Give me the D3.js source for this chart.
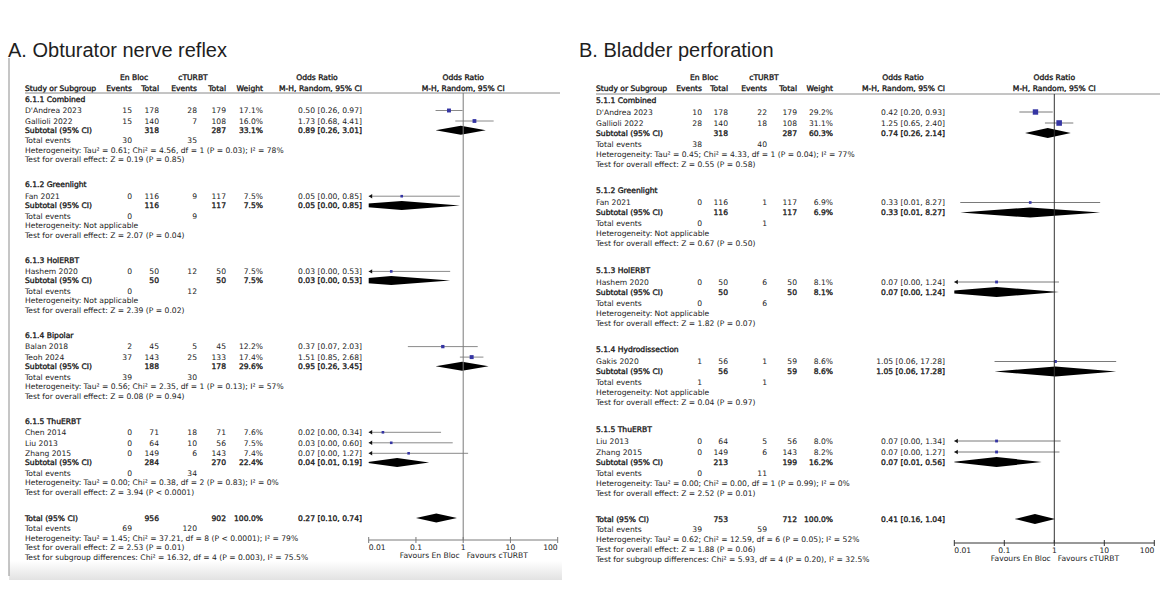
<!DOCTYPE html>
<html><head><meta charset="utf-8">
<script src="https://cdn.jsdelivr.net/npm/d3@7"></script>
<style>
html,body{margin:0;padding:0;background:#fff;}
svg{display:block;}
text{font-family:"DejaVu Sans",Verdana,sans-serif;font-size:7.6px;fill:#1a1a1a;}
text.b{stroke:#1a1a1a;stroke-width:0.35px;}
text.title{font-family:"Liberation Sans",Arial,sans-serif;font-size:20px;fill:#1e1e1e;stroke:none;}
</style></head><body>
<svg id="c" width="1168" height="589"></svg>
<script>
// ---------------- Panel A data ----------------
const aTitle = "A. Obturator nerve reflex";
const aGroupLabels = ["6.1.1 Combined","6.1.2 Greenlight","6.1.3 HolERBT","6.1.4 Bipolar","6.1.5 ThuERBT"];
const aStudy = ["D'Andrea 2023","Gallioli 2022","Fan 2021","Hashem 2020","Balan 2018","Teoh 2024","Chen 2014","Liu 2013","Zhang 2015"];
const aStudyGroup = [0,0,1,2,3,3,4,4,4];
const aEventsE = [15,15,0,0,2,37,0,0,0];
const aTotalE = [178,140,116,50,45,143,71,64,149];
const aEventsC = [28,7,9,12,5,25,18,10,6];
const aTotalC = [179,108,117,50,45,133,71,56,143];
const aWeight = [17.1,16.0,7.5,7.5,12.2,17.4,7.6,7.5,7.4];
const aOR = [0.50,1.73,0.05,0.03,0.37,1.51,0.02,0.03,0.07];
const aLo = [0.26,0.68,0.00,0.00,0.07,0.85,0.00,0.00,0.00];
const aHi = [0.97,4.41,0.85,0.53,2.03,2.68,0.34,0.60,1.27];
const aSubTotalE = [318,116,50,188,284];
const aSubTotalC = [287,117,50,178,270];
const aSubWeight = [33.1,7.5,7.5,29.6,22.4];
const aSubOR = [0.89,0.05,0.03,0.95,0.04];
const aSubLo = [0.26,0.00,0.00,0.26,0.01];
const aSubHi = [3.01,0.85,0.53,3.45,0.19];
const aSubEventsE = [30,0,0,39,0];
const aSubEventsC = [35,9,12,30,34];
const aSubHet = ["Heterogeneity: Tau² = 0.61; Chi² = 4.56, df = 1 (P = 0.03); I² = 78%",
  "Heterogeneity: Not applicable","Heterogeneity: Not applicable",
  "Heterogeneity: Tau² = 0.56; Chi² = 2.35, df = 1 (P = 0.13); I² = 57%",
  "Heterogeneity: Tau² = 0.00; Chi² = 0.38, df = 2 (P = 0.83); I² = 0%"];
const aSubTest = ["Test for overall effect: Z = 0.19 (P = 0.85)","Test for overall effect: Z = 2.07 (P = 0.04)",
  "Test for overall effect: Z = 2.39 (P = 0.02)","Test for overall effect: Z = 0.08 (P = 0.94)",
  "Test for overall effect: Z = 3.94 (P < 0.0001)"];
const aTotalTotals = [956,902];
const aTotalEvents = [69,120];
const aTotalWeight = 100.0;
const aTotalCI = [0.27,0.10,0.74];
const aTotalNotes = ["Heterogeneity: Tau² = 1.45; Chi² = 37.21, df = 8 (P < 0.0001); I² = 79%",
  "Test for overall effect: Z = 2.53 (P = 0.01)",
  "Test for subgroup differences: Chi² = 16.32, df = 4 (P = 0.003), I² = 75.5%"];

// ---------------- Panel B data ----------------
const bTitle = "B. Bladder perforation";
const bGroupLabels = ["5.1.1 Combined","5.1.2 Greenlight","5.1.3 HolERBT","5.1.4 Hydrodissection","5.1.5 ThuERBT"];
const bStudy = ["D'Andrea 2023","Gallioli 2022","Fan 2021","Hashem 2020","Gakis 2020","Liu 2013","Zhang 2015"];
const bStudyGroup = [0,0,1,2,3,4,4];
const bEventsE = [10,28,0,0,1,0,0];
const bTotalE = [178,140,116,50,56,64,149];
const bEventsC = [22,18,1,6,1,5,6];
const bTotalC = [179,108,117,50,59,56,143];
const bWeight = [29.2,31.1,6.9,8.1,8.6,8.0,8.2];
const bOR = [0.42,1.25,0.33,0.07,1.05,0.07,0.07];
const bLo = [0.20,0.65,0.01,0.00,0.06,0.00,0.00];
const bHi = [0.93,2.40,8.27,1.24,17.28,1.34,1.27];
const bSubTotalE = [318,116,50,56,213];
const bSubTotalC = [287,117,50,59,199];
const bSubWeight = [60.3,6.9,8.1,8.6,16.2];
const bSubOR = [0.74,0.33,0.07,1.05,0.07];
const bSubLo = [0.26,0.01,0.00,0.06,0.01];
const bSubHi = [2.14,8.27,1.24,17.28,0.56];
const bSubEventsE = [38,0,0,1,0];
const bSubEventsC = [40,1,6,1,11];
const bSubHet = ["Heterogeneity: Tau² = 0.45; Chi² = 4.33, df = 1 (P = 0.04); I² = 77%",
  "Heterogeneity: Not applicable","Heterogeneity: Not applicable","Heterogeneity: Not applicable",
  "Heterogeneity: Tau² = 0.00; Chi² = 0.00, df = 1 (P = 0.99); I² = 0%"];
const bSubTest = ["Test for overall effect: Z = 0.55 (P = 0.58)","Test for overall effect: Z = 0.67 (P = 0.50)",
  "Test for overall effect: Z = 1.82 (P = 0.07)","Test for overall effect: Z = 0.04 (P = 0.97)",
  "Test for overall effect: Z = 2.52 (P = 0.01)"];
const bTotalTotals = [753,712];
const bTotalEvents = [39,59];
const bTotalWeight = 100.0;
const bTotalCI = [0.41,0.16,1.04];
const bTotalNotes = ["Heterogeneity: Tau² = 0.62; Chi² = 12.59, df = 6 (P = 0.05); I² = 52%",
  "Test for overall effect: Z = 1.88 (P = 0.06)",
  "Test for subgroup differences: Chi² = 5.93, df = 4 (P = 0.20), I² = 32.5%"];

// common labels
const tickValues = [0.01,0.1,1,10,100];
const tickLabels = ["0.01","0.1","1","10","100"];
const expLabel = "En Bloc", ctrlLabel = "cTURBT";
const favLeft = "Favours En Bloc", favRight = "Favours cTURBT";

// ---------------- layout (positions only) ----------------
const layoutA = {
  titleX: 8, titleY: 57,
  col: {study:25, evE:132, totE:159, evC:197, totC:226, wt:263, ci:362},
  hdr1: {en:134, ct:193, or:317}, hdr1Y:77, hdr2Y:88, lineY:93, lineX2:560,
  range:[368.7,557.7], top:99,
  st:{hs:11.5, ss:10.5, sub:9.2, te:10.5, ln:9.5, gap:25, tgap:26, tte:10.5},
  axisY:540, diaH:9, sq:0.95, vColor:"#7a7a7a", ciColor:"#8a8a8a",
  border:{x:9, y1:58, y2:576}, shade:{x1:9, x2:562, y1:561, y2:580}
};
const layoutB = {
  titleX: 579, titleY: 57,
  col: {study:596, evE:702, totE:728, evC:767, totC:797, wt:833, ci:945},
  hdr1: {en:704, ct:764, or:903}, hdr1Y:77, hdr2Y:88, lineY:94, lineX2:1160,
  range:[954.3,1154.3], top:99.8,
  st:{hs:12.2, ss:11, sub:10, te:11, ln:10, gap:26.3, tgap:26, tte:10},
  axisY:543, diaH:10, sq:1.0, vColor:"#333", ciColor:"#7a7a7a",
  border:null, shade:null
};

const svg = d3.select("#c");
const defs = svg.append("defs");
const grad = defs.append("linearGradient").attr("id","shadeGrad").attr("x1",0).attr("y1",0).attr("x2",0).attr("y2",1);
grad.append("stop").attr("offset","0%").attr("stop-color","#ffffff");
grad.append("stop").attr("offset","100%").attr("stop-color","#e2e2e2");

const f2 = d3.format(".2f");
const pct = v => d3.format(".1f")(v) + "%";
const ciText = (e,l,h) => `${f2(e)} [${f2(l)}, ${f2(h)}]`;

function txt(g, x, y, s, anchor, bold, cls) {
  return g.append("text").attr("x", x).attr("y", y).attr("dy", "0.36em")
    .attr("text-anchor", anchor || "start").attr("class", (bold ? "b " : "") + (cls || "")).text(s);
}

function drawPanel(L, D, idx) {
  const g = svg.append("g");
  const c = L.col;
  const x = d3.scaleLog().domain([0.01,100]).range(L.range);
  const clipId = "clip" + idx;
  defs.append("clipPath").attr("id", clipId).append("rect")
    .attr("x", L.range[0]).attr("y", 0).attr("width", L.range[1]-L.range[0]).attr("height", 589);

  if (L.shade) g.append("rect").attr("x", L.shade.x1).attr("y", L.shade.y1)
    .attr("width", L.shade.x2 - L.shade.x1).attr("height", L.shade.y2 - L.shade.y1).attr("fill", "url(#shadeGrad)");
  if (L.border) g.append("line").attr("x1", L.border.x).attr("x2", L.border.x)
    .attr("y1", L.border.y1).attr("y2", L.border.y2).attr("stroke", "#a0a0a0").attr("stroke-width", 1.2);

  g.append("text").attr("class","title").attr("x", L.titleX).attr("y", L.titleY).text(D.title);

  // headers
  txt(g, L.hdr1.en, L.hdr1Y, expLabel, "middle", true);
  txt(g, L.hdr1.ct, L.hdr1Y, ctrlLabel, "middle", true);
  txt(g, L.hdr1.or, L.hdr1Y, "Odds Ratio", "middle", true);
  const pc = x(1);
  txt(g, pc, L.hdr1Y, "Odds Ratio", "middle", true);
  txt(g, c.study, L.hdr2Y, "Study or Subgroup", "start", true);
  txt(g, c.evE, L.hdr2Y, "Events", "end", true);
  txt(g, c.totE, L.hdr2Y, "Total", "end", true);
  txt(g, c.evC, L.hdr2Y, "Events", "end", true);
  txt(g, c.totC, L.hdr2Y, "Total", "end", true);
  txt(g, c.wt, L.hdr2Y, "Weight", "end", true);
  txt(g, c.ci, L.hdr2Y, "M-H, Random, 95% CI", "end", true);
  txt(g, pc, L.hdr2Y, "M-H, Random, 95% CI", "middle", true);
  g.append("line").attr("x1", c.study).attr("x2", L.lineX2).attr("y1", L.lineY).attr("y2", L.lineY)
    .attr("stroke", "#8a8a8a").attr("stroke-width", 1);

  const plot = svg.append("g").attr("clip-path", `url(#${clipId})`);
  const marks = svg.append("g");
  const geoLo = (e, l, h) => (l >= 0.1 ? l : e * e / h);

  function diamond(y, e, l, h) {
    const lo = geoLo(e, l, h), hh = L.diaH / 2;
    plot.append("path").attr("d", d3.line()([[x(lo), y], [x(e), y - hh], [x(h), y], [x(e), y + hh]]) + "Z")
      .attr("fill", "#000");
  }

  let y = L.top;
  const st = L.st;
  D.groups.forEach((gl, gi) => {
    txt(g, c.study, y, gl, "start", true);
    const ids = D.studyGroup.map((v, i) => v === gi ? i : -1).filter(i => i >= 0);
    let sy = y + st.hs;
    ids.forEach((i, k) => {
      if (k > 0) sy += st.ss;
      txt(g, c.study, sy, D.study[i]);
      txt(g, c.evE, sy, D.evE[i], "end");
      txt(g, c.totE, sy, D.totE[i], "end");
      txt(g, c.evC, sy, D.evC[i], "end");
      txt(g, c.totC, sy, D.totC[i], "end");
      txt(g, c.wt, sy, pct(D.w[i]), "end");
      txt(g, c.ci, sy, ciText(D.or[i], D.lo[i], D.hi[i]), "end");
      const lo = geoLo(D.or[i], D.lo[i], D.hi[i]);
      const x0 = Math.max(x(lo), L.range[0]), x1 = Math.min(x(D.hi[i]), L.range[1]);
      marks.append("line").attr("x1", x0).attr("x2", x1).attr("y1", sy).attr("y2", sy)
        .attr("stroke", L.ciColor).attr("stroke-width", 1);
      if (x(lo) < L.range[0]) {
        marks.append("path").attr("d", d3.line()([[x0, sy], [x0 + 3.5, sy - 2.2], [x0 + 3.5, sy + 2.2]]) + "Z")
          .attr("fill", "#111");
      }
      const s = Math.max(2, L.sq * Math.sqrt(D.w[i]));
      marks.append("rect").attr("x", x(D.or[i]) - s / 2).attr("y", sy - s / 2).attr("width", s).attr("height", s)
        .attr("fill", "#3535a3");
    });
    const suby = sy + st.sub;
    txt(g, c.study, suby, "Subtotal (95% CI)", "start", true);
    txt(g, c.totE, suby, D.subTotE[gi], "end", true);
    txt(g, c.totC, suby, D.subTotC[gi], "end", true);
    txt(g, c.wt, suby, pct(D.subW[gi]), "end", true);
    txt(g, c.ci, suby, ciText(D.subOr[gi], D.subLo[gi], D.subHi[gi]), "end", true);
    diamond(suby, D.subOr[gi], D.subLo[gi], D.subHi[gi]);
    const tey = suby + st.te;
    txt(g, c.study, tey, "Total events");
    txt(g, c.evE, tey, D.subEvE[gi], "end");
    txt(g, c.evC, tey, D.subEvC[gi], "end");
    txt(g, c.study, tey + st.ln, D.subHet[gi]);
    txt(g, c.study, tey + 2 * st.ln, D.subTest[gi]);
    y = tey + 2 * st.ln + (gi < D.groups.length - 1 ? st.gap : st.tgap);
  });
  // overall
  txt(g, c.study, y, "Total (95% CI)", "start", true);
  txt(g, c.totE, y, D.totTot[0], "end", true);
  txt(g, c.totC, y, D.totTot[1], "end", true);
  txt(g, c.wt, y, pct(D.totW), "end", true);
  txt(g, c.ci, y, ciText(...D.totCI), "end", true);
  diamond(y, ...D.totCI);
  const ty = y + st.tte;
  txt(g, c.study, ty, "Total events");
  txt(g, c.evE, ty, D.totEv[0], "end");
  txt(g, c.evC, ty, D.totEv[1], "end");
  D.notes.forEach((n, k) => txt(g, c.study, ty + (k + 1) * st.ln, n));

  // null line and axis
  marks.append("line").attr("x1", pc).attr("x2", pc).attr("y1", L.lineY).attr("y2", L.axisY)
    .attr("stroke", L.vColor).attr("stroke-width", 1);
  const ax = svg.append("g").attr("transform", `translate(0,${L.axisY})`);
  ax.append("line").attr("x1", L.range[0]).attr("x2", L.range[1]).attr("y1", 0).attr("y2", 0)
    .attr("stroke", L.vColor).attr("stroke-width", 1);
  tickValues.forEach((v, k) => {
    ax.append("line").attr("x1", x(v)).attr("x2", x(v)).attr("y1", -3).attr("y2", 3)
      .attr("stroke", L.vColor).attr("stroke-width", 1);
    const anchor = k === 0 ? "start" : (k === tickValues.length - 1 ? "end" : "middle");
    txt(ax, x(v), 7, tickLabels[k], anchor);
  });
  txt(ax, pc - 3.5, 15.5, favLeft, "end");
  txt(ax, pc + 3.5, 15.5, favRight, "start");
}

drawPanel(layoutA, {
  title:aTitle, groups:aGroupLabels, study:aStudy, studyGroup:aStudyGroup, evE:aEventsE, totE:aTotalE,
  evC:aEventsC, totC:aTotalC, w:aWeight, or:aOR, lo:aLo, hi:aHi, subTotE:aSubTotalE, subTotC:aSubTotalC,
  subW:aSubWeight, subOr:aSubOR, subLo:aSubLo, subHi:aSubHi, subEvE:aSubEventsE, subEvC:aSubEventsC,
  subHet:aSubHet, subTest:aSubTest, totTot:aTotalTotals, totEv:aTotalEvents, totW:aTotalWeight,
  totCI:aTotalCI, notes:aTotalNotes}, 0);
drawPanel(layoutB, {
  title:bTitle, groups:bGroupLabels, study:bStudy, studyGroup:bStudyGroup, evE:bEventsE, totE:bTotalE,
  evC:bEventsC, totC:bTotalC, w:bWeight, or:bOR, lo:bLo, hi:bHi, subTotE:bSubTotalE, subTotC:bSubTotalC,
  subW:bSubWeight, subOr:bSubOR, subLo:bSubLo, subHi:bSubHi, subEvE:bSubEventsE, subEvC:bSubEventsC,
  subHet:bSubHet, subTest:bSubTest, totTot:bTotalTotals, totEv:bTotalEvents, totW:bTotalWeight,
  totCI:bTotalCI, notes:bTotalNotes}, 1);
</script>
</body></html>
